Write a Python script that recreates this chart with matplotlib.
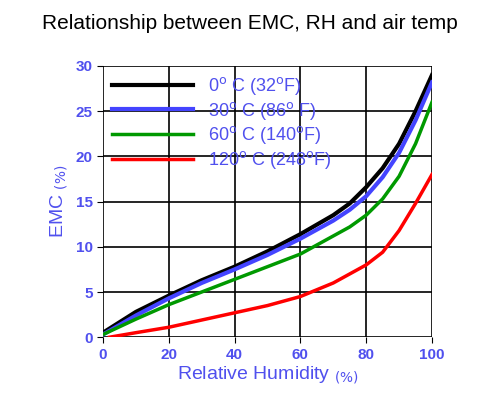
import matplotlib
matplotlib.use('Agg')
import matplotlib.pyplot as plt

plt.rcParams['font.family'] = ['Liberation Sans', 'DejaVu Sans']

rh = [0, 10, 20, 30, 40, 50, 60, 70, 75, 80, 85, 90, 95, 100]
emc_0c = [0.5, 2.8, 4.6, 6.3, 7.8, 9.5, 11.4, 13.5, 14.8, 16.6, 18.7, 21.4, 25.0, 29.0]
emc_30c = [0.3, 2.4, 4.3, 6.0, 7.5, 9.1, 10.9, 12.9, 14.1, 15.6, 17.7, 20.4, 24.0, 28.2]
emc_60c = [0.3, 2.0, 3.6, 5.0, 6.4, 7.8, 9.2, 11.2, 12.2, 13.5, 15.3, 17.8, 21.4, 26.0]
rh_120 = [2, 10, 20, 30, 40, 50, 60, 70, 75, 80, 85, 90, 95, 100]
emc_120c = [0.0, 0.5, 1.1, 1.9, 2.7, 3.5, 4.5, 6.0, 7.0, 8.0, 9.4, 11.8, 14.8, 18.0]

labels = ['0$^{\\mathrm{o}}$ C (32$^{\\mathrm{o}}$F)', '30$^{\\mathrm{o}}$ C (86$^{\\mathrm{o}}$ F)',
          '60$^{\\mathrm{o}}$ C (140$^{\\mathrm{o}}$F)', '120$^{\\mathrm{o}}$ C (248$^{\\mathrm{o}}$F)']
blue_txt = '#5050ee'

fig = plt.figure(figsize=(5, 4), dpi=100)
ax = fig.add_axes([0.206, 0.157, 0.658, 0.678])
ax.plot(rh, emc_0c, color='black', lw=3, label=labels[0])
ax.plot(rh, emc_30c, color='#4444ff', lw=3, label=labels[1])
ax.plot(rh, emc_60c, color='#009900', lw=2.5, label=labels[2])
ax.plot(rh_120, emc_120c, color='#ff0000', lw=2.5, label=labels[3])

ax.set_xlim(0, 100)
ax.set_ylim(0, 30)
ax.set_xticks(range(0, 101, 20))
ax.set_yticks(range(0, 31, 5))
ax.grid(True, color='black', lw=1.2)
for s in ax.spines.values():
    s.set_visible(False)
ax.tick_params(colors='black', labelcolor=blue_txt, labelsize=11, length=4)
for t in ax.get_xticklabels() + ax.get_yticklabels():
    t.set_fontweight('bold')

ax.set_xlabel('Relative Humidity $_{(\\%)}$', color=blue_txt, fontsize=14, labelpad=2)
ax.set_ylabel('EMC $_{(\\%)}$', color=blue_txt, fontsize=14, labelpad=4)
fig.suptitle('Relationship between EMC, RH and air temp', fontsize=15, y=0.965)

leg = ax.legend(loc='upper left', frameon=False, fontsize=13, handlelength=4.5,
                borderaxespad=0.1, labelspacing=0.15, handletextpad=0.8)
for t in leg.get_texts():
    t.set_color(blue_txt)
    t.set_ha('right')

fig.savefig('out.png')
